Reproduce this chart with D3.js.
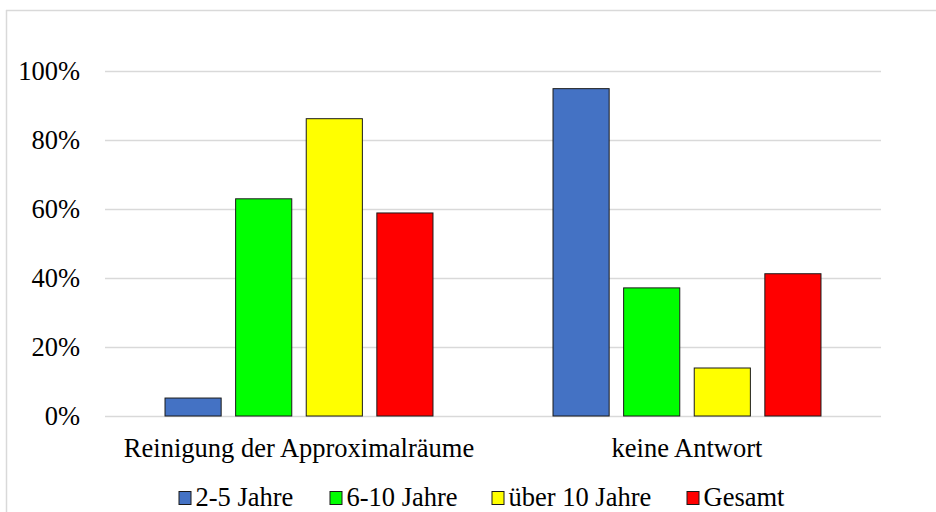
<!DOCTYPE html>
<html>
<head>
<meta charset="utf-8">
<script src="https://cdn.jsdelivr.net/npm/d3@7"></script>
<style>
  html, body { margin: 0; padding: 0; background: #fff; overflow: hidden; }
  svg { display: block; }
</style>
</head>
<body>
<svg id="chart" width="936" height="512"></svg>
<script>
const categories = ["Reinigung der Approximalräume", "keine Antwort"];
const seriesNames = ["2-5 Jahre", "6-10 Jahre", "über 10 Jahre", "Gesamt"];
const seriesColors = ["#4472C4", "#00FF00", "#FFFF00", "#FF0000"];
const values25 = [0.052, 0.948];
const values610 = [0.629, 0.371];
const valuesUeber10 = [0.861, 0.139];
const valuesGesamt = [0.588, 0.412];
const yTicks = [0, 0.2, 0.4, 0.6, 0.8, 1.0];

const seriesValues = [values25, values610, valuesUeber10, valuesGesamt];
const FONT = "Liberation Serif";
const FS = 26.5;

const svg = d3.select("#chart");

// chart frame (only left and top edges fall inside the picture)
svg.append("line").attr("x1", 6.5).attr("x2", 6.5).attr("y1", 10).attr("y2", 512)
  .attr("stroke", "#d9d9d9").attr("stroke-width", 1.5);
svg.append("line").attr("x1", 6).attr("x2", 936).attr("y1", 10.5).attr("y2", 10.5)
  .attr("stroke", "#d9d9d9").attr("stroke-width", 1.5);

const plotLeft = 105, plotRight = 881, plotTop = 70.7, plotBottom = 416;

const y = d3.scaleLinear().domain([0, 1]).range([plotBottom, plotTop]);
const x0 = d3.scaleBand().domain(categories).range([plotLeft, plotRight]).padding(0);
const x1 = d3.scaleBand().domain(seriesNames)
  .range([0, x0.bandwidth()])
  .paddingInner(0.205).paddingOuter(0.85);

// gridlines
svg.append("g").selectAll("line").data(yTicks).join("line")
  .attr("x1", plotLeft).attr("x2", plotRight)
  .attr("y1", d => Math.round(y(d)) + 0.5).attr("y2", d => Math.round(y(d)) + 0.5)
  .attr("stroke", "#d9d9d9").attr("stroke-width", 1.3);

// y tick labels
svg.append("g").selectAll("text").data(yTicks).join("text")
  .attr("x", 80).attr("y", d => y(d) + 9.3)
  .attr("text-anchor", "end")
  .attr("font-family", FONT)
  .attr("font-size", FS)
  .attr("fill", "#000")
  .text(d => d3.format(".0%")(d));

// bars
const groups = svg.append("g").selectAll("g").data(seriesNames).join("g")
  .attr("fill", (d, i) => seriesColors[i]);

groups.selectAll("rect")
  .data((s, si) => categories.map((c, ci) => ({ c, s, v: seriesValues[si][ci] })))
  .join("rect")
  .attr("x", d => x0(d.c) + x1(d.s))
  .attr("width", x1.bandwidth())
  .attr("y", d => y(d.v))
  .attr("height", d => y(0) - y(d.v))
  .attr("stroke", "#1a1a1a").attr("stroke-width", 1);

// category labels
svg.append("g").selectAll("text").data(categories).join("text")
  .attr("x", d => x0(d) + x0.bandwidth() / 2)
  .attr("y", 457.3)
  .attr("text-anchor", "middle")
  .attr("font-family", FONT)
  .attr("font-size", FS)
  .attr("fill", "#000")
  .text(d => d);

// legend
const legendX = [178.5, 329.5, 491.5, 686.5];
const lg = svg.append("g").selectAll("g").data(seriesNames).join("g")
  .attr("transform", (d, i) => `translate(${legendX[i]},0)`);
lg.append("rect")
  .attr("x", 0.5).attr("y", 491.5)
  .attr("width", 12).attr("height", 13)
  .attr("fill", (d, i) => seriesColors[i])
  .attr("stroke", "#1a1a1a").attr("stroke-width", 1);
lg.append("text")
  .attr("x", 17).attr("y", 506.3)
  .attr("font-family", FONT)
  .attr("font-size", FS)
  .attr("fill", "#000")
  .text(d => d);
</script>
</body>
</html>
